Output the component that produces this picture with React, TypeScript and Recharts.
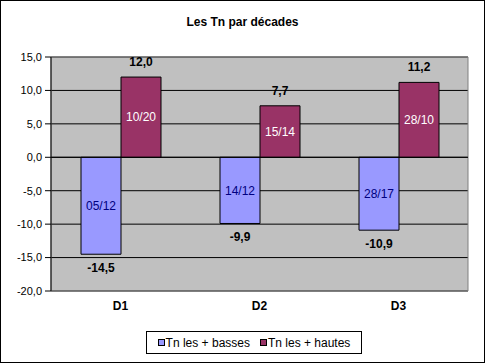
import React from 'react';
import {
  BarChart,
  Bar,
  XAxis,
  YAxis,
  CartesianGrid,
  ReferenceLine,
  ReferenceArea,
  LabelList,
  Legend,
} from 'recharts';

const categories = ['D1', 'D2', 'D3'];
const basses = [-14.5, -9.9, -10.9];
const hautes = [12.0, 7.7, 11.2];
const bassesDates = ['05/12', '14/12', '28/17'];
const hautesDates = ['10/20', '15/14', '28/10'];
const yTicks = [15, 10, 5, 0, -5, -10, -15, -20];

const BLUE = '#9999FF';
const RED = '#993366';
const FONT = 'Arial, "Liberation Sans", sans-serif';

const data = categories.map((c, i) => ({
  name: c,
  basses: basses[i],
  hautes: hautes[i],
  bassesDate: bassesDates[i],
  hautesDate: hautesDates[i],
}));

const fmt = (v: number) => v.toFixed(1).replace('.', ',');

function ValueLabel(props: any) {
  const { x, y, width, height, value } = props;
  const top = Math.min(y, y + height);
  const bottom = Math.max(y, y + height);
  const cx = x + width / 2;
  const ty = value >= 0 ? top - 11 : bottom + 18;
  return (
    <text
      x={cx}
      y={ty}
      textAnchor="middle"
      fontSize={12}
      fontWeight="bold"
      fontFamily={FONT}
      fill="#000"
    >
      {fmt(value)}
    </text>
  );
}

function LegendBox() {
  const item = (color: string, label: string) => (
    <span style={{ display: 'inline-flex', alignItems: 'center', marginRight: 10 }}>
      <span
        style={{
          width: 7,
          height: 7,
          background: color,
          border: '1px solid #000',
          marginRight: 1,
          boxSizing: 'border-box',
        }}
      />
      {label}
    </span>
  );
  return (
    <div
      style={{
        position: 'absolute',
        left: 146,
        top: 331,
        width: 216,
        height: 23,
        border: '1px solid #000',
        boxSizing: 'border-box',
        background: '#fff',
        fontFamily: FONT,
        fontSize: 12,
        display: 'flex',
        alignItems: 'center',
        justifyContent: 'center',
        paddingLeft: 10,
      }}
    >
      {item(BLUE, 'Tn les + basses')}
      {item(RED, 'Tn les + hautes')}
    </div>
  );
}

export default function App() {
  return (
    <div
      style={{
        position: 'absolute',
        left: 0,
        top: 0,
        width: 485,
        height: 363,
        background: '#fff',
      }}
    >
      <div
        style={{
          position: 'absolute',
          top: 15,
          left: 0,
          width: 485,
          textAlign: 'center',
          fontFamily: FONT,
          fontSize: 12,
          fontWeight: 'bold',
        }}
      >
        Les Tn par décades
      </div>
      <BarChart
        width={485}
        height={363}
        data={data}
        margin={{ top: 57, right: 17, bottom: 42, left: 0 }}
        barGap={0}
        barSize={40}
        style={{ fontFamily: FONT }}
      >
        <CartesianGrid vertical={false} fill="#C0C0C0" stroke="#000" strokeOpacity={1} />
        <ReferenceArea y1={-20} y2={15} fill="none" stroke="#808080" ifOverflow="visible" />
        <XAxis
          dataKey="name"
          axisLine={false}
          tickLine={false}
          height={30}
          tickMargin={4}
          tick={{ fontSize: 12, fontWeight: 'bold', fill: '#000' }}
        />
        <YAxis
          width={51}
          domain={[-20, 15]}
          ticks={yTicks}
          interval={0}
          tickFormatter={fmt}
          axisLine={{ stroke: '#000' }}
          tickLine={{ stroke: '#000' }}
          tickSize={6}
          tickMargin={3}
          tick={{ fontSize: 11, fill: '#000' }}
        />
        <ReferenceLine y={0} stroke="#000" />
        <Bar dataKey="basses" fill={BLUE} stroke="#000" strokeWidth={1} isAnimationActive={false}>
          <LabelList dataKey="basses" content={<ValueLabel />} />
          <LabelList
            dataKey="bassesDate"
            position="center"
            fill="#000080"
            fontSize={12}
            fontFamily={FONT}
          />
        </Bar>
        <Bar dataKey="hautes" fill={RED} stroke="#000" strokeWidth={1} isAnimationActive={false}>
          <LabelList dataKey="hautes" content={<ValueLabel />} />
          <LabelList
            dataKey="hautesDate"
            position="center"
            fill="#fff"
            fontSize={12}
            fontFamily={FONT}
          />
        </Bar>
      </BarChart>
      <LegendBox />
      <div
        style={{
          position: 'absolute',
          left: 0,
          top: 0,
          width: 485,
          height: 363,
          border: '1px solid #000',
          boxSizing: 'border-box',
          pointerEvents: 'none',
        }}
      />
    </div>
  );
}
